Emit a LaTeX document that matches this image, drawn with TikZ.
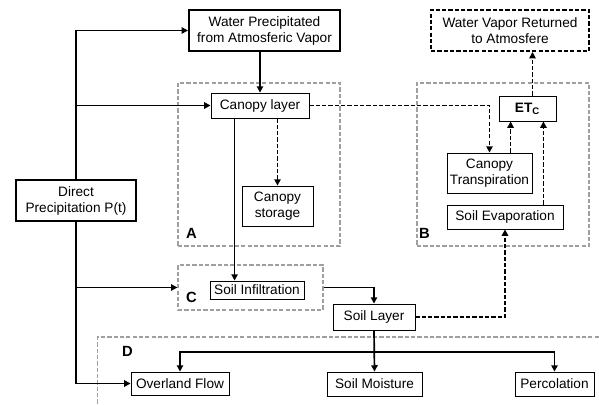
\documentclass[tikz,border=0pt]{standalone}
\usepackage{fontspec}
\setmainfont{Liberation Sans}
\usepackage{tikz}
\usetikzlibrary{arrows.meta}

\begin{document}
\begin{tikzpicture}[x=0.025cm,y=-0.025cm,
		font=\fontsize{9.7}{11.4}\selectfont,
		box/.style={draw,line width=0.6pt,align=center,inner sep=1pt},
		bigbox/.style={box,line width=1.4pt},
		region/.style={draw=gray!75,dash pattern=on 3pt off 1.5pt,line width=0.8pt},
		lbl/.style={font=\fontsize{10.5}{12}\selectfont\bfseries},
		arr/.style={line width=1.2pt,-{Triangle[length=4.5pt,width=4.5pt]}},
		darr/.style={arr,dash pattern=on 3pt off 1.5pt}]
	\useasboundingbox (0,0) rectangle (599,404);
	
		\node[region,minimum width=4.05cm,minimum height=4.075cm] (regA) at (259,164.5) {};
		\node[region,minimum width=4.3cm,minimum height=4.075cm] (regB) at (503,164.5) {};
		\node[region,minimum width=3.625cm,minimum height=1.125cm] (regC) at (250.5,287.5) {};
		\begin{scope}
			\clip (0,0) rectangle (599,404);
			\node[region,minimum width=13.05cm,minimum height=2.075cm] (regD) at (359,378.5) {};
		\end{scope}
		\node[lbl] (labA) at ([shift={(0.35cm,0.325cm)}]regA.south west) {A};
		\node[lbl] (labB) at ([shift={(0.2cm,0.325cm)}]regB.south west) {B};
		\node[lbl] (labC) at ([shift={(0.35cm,0.325cm)}]regC.south west) {C};
		\node[lbl] (labD) at ([shift={(0.75cm,-0.375cm)}]regD.north west) {D};
	
		\node[bigbox,minimum width=3.775cm,minimum height=1.025cm] (wpa) at (264.5,30.5) {Water Precipitated\\from Atmosferic Vapor};
		\node[bigbox,dash pattern=on 3pt off 1.5pt,minimum width=3.95cm,minimum height=1.025cm] (wvr) at (510,30.5) {Water Vapor Returned\\to Atmosfere};
		\node[bigbox,minimum width=3cm,minimum height=1.025cm] (direct) at (76,200.5) {Direct\\Precipitation P(t)};
		\node[box,minimum width=2.45cm,minimum height=0.625cm] (canopy) at (260,105.5) {Canopy layer};
		\node[box,minimum width=1.775cm,minimum height=1cm] (storage) at (277.5,206) {Canopy\\storage};
		\node[box,minimum width=1.425cm,minimum height=0.625cm] (etc) at (527.5,108.5) {\textbf{ET}\textsubscript{\textbf{C}}};
		\node[box,minimum width=2.125cm,minimum height=1cm] (transp) at (489.5,173) {Canopy\\Transpiration};
		\node[box,minimum width=2.9cm,minimum height=0.6cm] (soilevap) at (505,217) {Soil Evaporation};
		\node[box,minimum width=2.35cm,minimum height=0.45cm] (infil) at (257,290) {Soil Infiltration};
		\node[box,minimum width=2.05cm,minimum height=0.65cm] (soillayer) at (374,317) {Soil Layer};
		\node[box,minimum width=2.45cm,minimum height=0.575cm] (overland) at (180,383.5) {Overland Flow};
		\node[box,minimum width=2.375cm,minimum height=0.6cm] (moisture) at (374.5,384) {Soil Moisture};
		\node[box,minimum width=1.975cm,minimum height=0.6cm] (perc) at (554.5,384) {Percolation};
		\coordinate (split) at (374.5,352);
	
		\draw[arr] (direct.north) |- (wpa.west);
		\draw[arr] (direct.north) |- (canopy.west);
		\draw[arr] (direct.south) |- (regC.west);
		\draw[arr] (direct.south) |- (overland.west);
		\draw[arr] (canopy.north |- wpa.south) -- (canopy.north);
		\draw[arr] ([xshift=0.6cm]canopy.south west) -- ([xshift=0.6cm]canopy.south west |- infil.north);
		\draw[darr] (storage.north |- canopy.south) -- (storage.north);
		\draw[darr] (canopy.east) -| (transp.north);
		\draw[darr] ([xshift=0.3cm]etc.south west |- transp.north) -- ([xshift=0.3cm]etc.south west);
		\draw[darr] ([xshift=-0.325cm]etc.south east |- soilevap.north) -- ([xshift=-0.325cm]etc.south east);
		\draw[darr] ([xshift=0.125cm]etc.north) -- ([xshift=0.125cm]etc.north |- wvr.south);
		\draw[arr] (regC.east) -| (soillayer.north);
		\draw[darr] (soillayer.east) -| (soilevap.south);
		\draw[arr] (soillayer.south) -- (moisture.north);
		\draw[arr] (split) -| (overland.north);
		\draw[arr] (split) -| (perc.north);
	\end{tikzpicture}
\end{document}
